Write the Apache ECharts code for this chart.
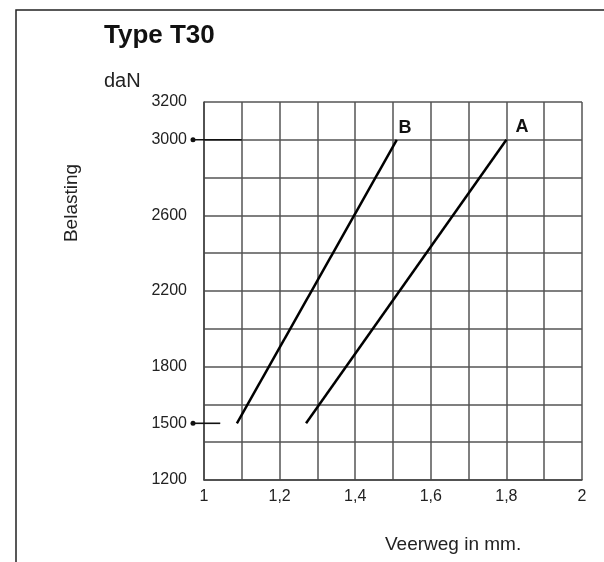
<!DOCTYPE html>
<html><head><meta charset="utf-8">
<script src="https://cdn.jsdelivr.net/npm/echarts@6/dist/echarts.min.js"></script>
<style>html,body{margin:0;padding:0;background:#fff}#c{width:604px;height:562px}</style>
</head><body><div id="c"></div>
<script>
const lineA = [[1.27, 1500], [1.80, 3000]];
const lineB = [[1.087, 1500], [1.51, 3000]];
const yTickLabels = [1200, 1500, 1800, 2200, 2600, 3000, 3200];
const markedLoads = [3000, 1500];
const markerEnds = [1.1, 1.043];
const xLabelEvery = 0.2;

const chart = echarts.init(document.getElementById('c'), null, {renderer: 'canvas'});
const F = 'Liberation Sans, Arial, Helvetica, sans-serif';
const baseGraphic = [
  {type: 'polyline', shape: {points: [[16, 570], [16, 10], [610, 10]]}, style: {stroke: '#222', lineWidth: 1.5, fill: null}},
  {type: 'text', x: 104, y: 36, style: {text: 'Type T30', font: 'bold 26px ' + F, fill: '#111', verticalAlign: 'middle'}},
  {type: 'text', x: 104, y: 81, style: {text: 'daN', font: '20px ' + F, fill: '#222', verticalAlign: 'middle'}},
  {type: 'text', x: 385, y: 545, style: {text: 'Veerweg in mm.', font: '19px ' + F, fill: '#222', verticalAlign: 'middle'}},
  {type: 'text', x: 72, y: 203, rotation: Math.PI / 2, style: {text: 'Belasting', font: '19px ' + F, fill: '#222', align: 'center', verticalAlign: 'middle'}},
  {type: 'text', x: 405, y: 128, style: {text: 'B', font: 'bold 18px ' + F, fill: '#111', align: 'center', verticalAlign: 'middle'}},
  {type: 'text', x: 522, y: 127, style: {text: 'A', font: 'bold 18px ' + F, fill: '#111', align: 'center', verticalAlign: 'middle'}}
];
chart.setOption({
  animation: false,
  grid: {left: 204, top: 102, width: 378, height: 378},
  graphic: baseGraphic,
  xAxis: {
    type: 'value', min: 1, max: 2, interval: 0.1,
    axisLine: {show: true, lineStyle: {color: '#444', width: 1.5}},
    axisTick: {show: false},
    splitLine: {show: true, lineStyle: {color: '#555', width: 1.5}},
    axisLabel: {
      margin: 9, color: '#222', fontSize: 16, fontFamily: F,
      formatter: v => (Math.round(v * 10) % Math.round(xLabelEvery * 10) === 0) ? String(Math.round(v * 10) / 10).replace('.', ',') : ''
    }
  },
  yAxis: [
    {
      type: 'value', min: 1200, max: 3200, interval: 200,
      axisLine: {show: true, lineStyle: {color: '#444', width: 1.5}},
      axisTick: {show: false}, axisLabel: {show: false},
      splitLine: {show: true, lineStyle: {color: '#555', width: 1.5}}
    },
    {
      type: 'value', min: 1200, max: 3200, interval: 100, position: 'left',
      axisLine: {show: false}, axisTick: {show: false}, splitLine: {show: false},
      axisLabel: {
        margin: 17, color: '#222', fontSize: 16, fontFamily: F,
        formatter: v => yTickLabels.includes(Math.round(v)) ? String(Math.round(v)) : ''
      }
    }
  ],
  series: [
    {type: 'line', data: lineA, symbol: 'none', lineStyle: {color: '#000', width: 2.5}, z: 5},
    {type: 'line', data: lineB, symbol: 'none', lineStyle: {color: '#000', width: 2.5}, z: 5}
  ]
});
// marker lines with dots for the marked loads, positioned through the chart's own scales
const extra = [];
markedLoads.forEach((v, i) => {
  const p0 = chart.convertToPixel({gridIndex: 0}, [1, v]);
  const p1 = chart.convertToPixel({gridIndex: 0}, [markerEnds[i], v]);
  const sx = p0[0] - 11;
  extra.push({type: 'line', shape: {x1: sx, y1: p0[1], x2: p1[0], y2: p1[1]}, style: {stroke: '#111', lineWidth: 1.6}, z: 10});
  extra.push({type: 'circle', shape: {cx: sx, cy: p0[1], r: 2.5}, style: {fill: '#111'}, z: 10});
});
chart.setOption({graphic: baseGraphic.concat(extra)});
</script></body></html>
